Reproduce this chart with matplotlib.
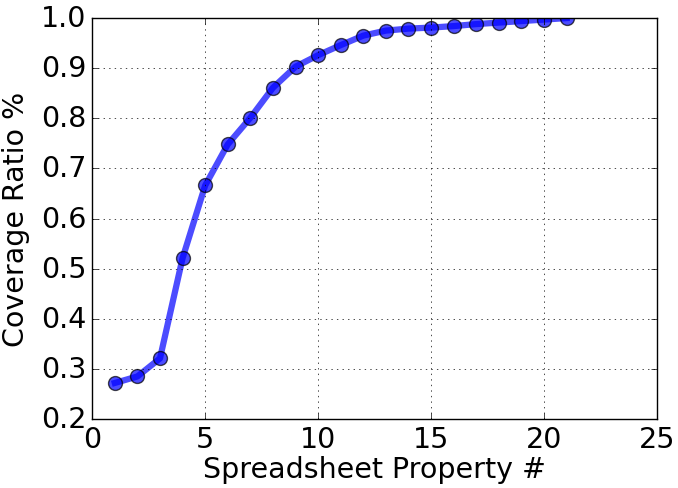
import matplotlib
matplotlib.use('Agg')
import matplotlib.pyplot as plt

# coverage ratio per number of spreadsheet properties
props = list(range(1, 22))
coverage = [0.272, 0.285, 0.321, 0.521, 0.666, 0.748, 0.801, 0.861, 0.903, 0.926,
            0.946, 0.965, 0.975, 0.979, 0.981, 0.984, 0.988, 0.991, 0.994, 0.997, 1.0]

plt.style.use('classic')
plt.rcParams['font.family'] = ['DejaVu Sans']

fig = plt.figure(figsize=(6.78, 4.89), dpi=100)
ax = fig.add_axes([0.136, 0.141, 0.833, 0.820])

ax.plot(props, coverage, color='blue', lw=4.5, alpha=0.7,
        marker='o', markersize=10, markeredgecolor='black', markeredgewidth=1)

ax.set_xlim(0, 25)
ax.set_ylim(0.2, 1.0)
ax.set_xticks(range(0, 26, 5))
ax.set_yticks([0.2, 0.3, 0.4, 0.5, 0.6, 0.7, 0.8, 0.9, 1.0])
ax.tick_params(labelsize=20.5, pad=4)
ax.set_xlabel("Spreadsheet Property #", fontsize=20.5, labelpad=2)
ax.set_ylabel("Coverage Ratio %", fontsize=20.5, labelpad=8)
ax.grid(True)

plt.savefig("out.png", dpi=100)
